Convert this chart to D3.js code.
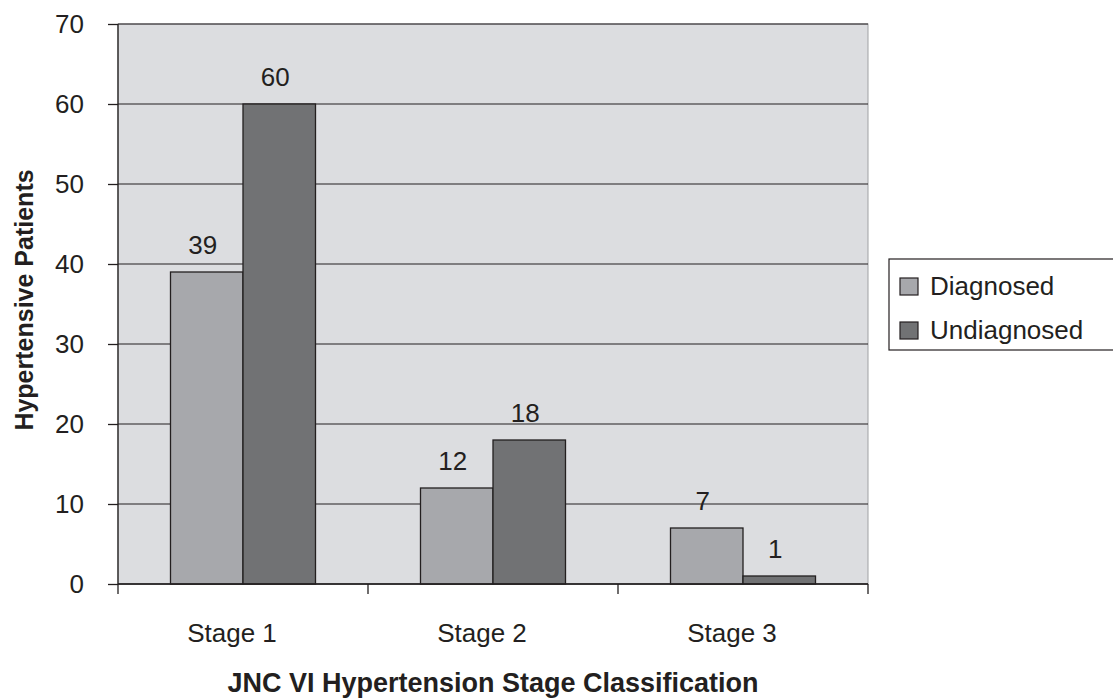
<!DOCTYPE html>
<html lang="en">
  <head>
    <meta charset="UTF-8" />
    <title>Hypertension Stage</title>
    <script src="https://d3js.org/d3.v7.min.js"></script>
    <style>
      body { margin: 0; background: #fff; }
      text { font-family: "Liberation Sans", Arial, sans-serif; fill: #231f20; }
    </style>
  </head>
  <body></body>
  <script>
    var stages = ["Stage 1", "Stage 2", "Stage 3"];
    var seriesNames = ["Diagnosed", "Undiagnosed"];
    var diagnosed = [39, 12, 7];
    var undiagnosed = [60, 18, 1];
    var yTicks = [0, 10, 20, 30, 40, 50, 60, 70];

    var colors = ["#a7a8ac", "#717274"];
    var margin = { top: 24, right: 245, bottom: 114, left: 118 };
    var W = 1113, H = 698;
    var width = W - margin.left - margin.right,
      height = H - margin.top - margin.bottom;

    var svg = d3.select("body").append("svg")
      .attr("width", W).attr("height", H);
    var g = svg.append("g")
      .attr("transform", "translate(" + margin.left + "," + margin.top + ")");

    var x = d3.scaleBand().domain(stages).range([0, width]);
    var x1 = d3.scaleBand().domain(seriesNames).range([0, 145]);
    var y = d3.scaleLinear().domain([0, 70]).range([height, 0]);

    g.append("rect")
      .attr("width", width).attr("height", height)
      .attr("fill", "#dcdde0").attr("stroke", "#a0a1a4");

    g.selectAll(".grid").data(yTicks).join("line")
      .attr("x1", 0).attr("x2", width)
      .attr("y1", d => y(d)).attr("y2", d => y(d))
      .attr("stroke", "#231f20").attr("stroke-width", 1);

    var rows = stages.map((s, i) => ({ stage: s, values: [diagnosed[i], undiagnosed[i]] }));

    var groups = g.selectAll(".grp").data(rows).join("g")
      .attr("transform", d => "translate(" + (x(d.stage) + x.bandwidth() / 2 - 72.5) + ",0)");

    groups.selectAll("rect").data(d => d.values.map((v, j) => ({ v: v, s: seriesNames[j], j: j })))
      .join("rect")
      .attr("x", d => x1(d.s)).attr("width", x1.bandwidth())
      .attr("y", d => y(d.v)).attr("height", d => y(0) - y(d.v))
      .attr("fill", d => colors[d.j]).attr("stroke", "#231f20").attr("stroke-width", 1.3);

    groups.selectAll("text").data(d => d.values.map((v, j) => ({ v: v, s: seriesNames[j] })))
      .join("text")
      .attr("x", d => x1(d.s) + x1.bandwidth() / 2 - 4)
      .attr("y", d => y(d.v) - 18)
      .attr("text-anchor", "middle").attr("font-size", 26)
      .text(d => d.v);

    // y axis
    var yAxis = g.append("g").call(d3.axisLeft(y).tickValues(yTicks).tickSize(10).tickPadding(24));
    yAxis.select(".domain").attr("stroke", "#231f20").attr("stroke-width", 1.3).attr("d", "M0," + height + "V0");
    yAxis.selectAll(".tick line").attr("stroke", "#231f20").attr("stroke-width", 1.3);
    yAxis.selectAll("text").attr("font-size", 26).style("fill", "#231f20");

    // x axis
    var xAxis = g.append("g").attr("transform", "translate(0," + height + ")")
      .call(d3.axisBottom(x).tickSize(0).tickPadding(40));
    xAxis.select(".domain").attr("stroke", "#231f20").attr("stroke-width", 1.3).attr("d", "M0,0H" + width);
    xAxis.selectAll("text").attr("font-size", 26).attr("x", -11).style("fill", "#231f20");
    xAxis.selectAll(".sep").data([0, 1, 2, 3]).join("line")
      .attr("x1", d => d * x.step()).attr("x2", d => d * x.step())
      .attr("y1", 0).attr("y2", 10)
      .attr("stroke", "#231f20").attr("stroke-width", 1.3);

    svg.append("text")
      .attr("transform", "translate(33," + (margin.top + height / 2 - 4) + ") rotate(-90)")
      .attr("text-anchor", "middle").attr("font-size", 25).attr("font-weight", "bold")
      .text("Hypertensive Patients");

    svg.append("text")
      .attr("x", margin.left + width / 2).attr("y", 692)
      .attr("text-anchor", "middle").attr("font-size", 27).attr("font-weight", "bold")
      .text("JNC VI Hypertension Stage Classification");

    // legend
    var lg = svg.append("g").attr("transform", "translate(889,259)");
    lg.append("rect").attr("width", 230).attr("height", 91)
      .attr("fill", "#fff").attr("stroke", "#231f20").attr("stroke-width", 1.2);
    seriesNames.forEach(function (name, i) {
      lg.append("rect").attr("x", 11).attr("y", 19 + i * 44).attr("width", 18).attr("height", 17)
        .attr("fill", colors[i]).attr("stroke", "#231f20").attr("stroke-width", 1.2);
      lg.append("text").attr("x", 41).attr("y", 36 + i * 44).attr("font-size", 26).text(name);
    });
  </script>
</html>
